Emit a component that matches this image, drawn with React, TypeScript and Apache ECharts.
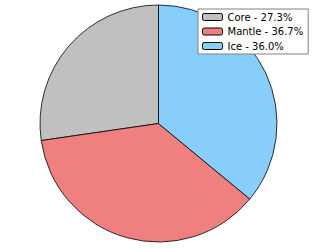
import React, { useEffect, useRef } from "react";
import * as echarts from "echarts";

const categories = ["Core", "Mantle", "Ice"];
const values = [27.3, 36.7, 36.0];
const colors = ["#c0c0c0", "#f08080", "#87cefa"];

export default function App() {
  const ref = useRef<HTMLDivElement>(null);
  useEffect(() => {
    document.body.style.margin = "0";
    const chart = echarts.init(ref.current!, null, { renderer: "svg" });
    chart.setOption({
      animation: false,
      backgroundColor: "#ffffff",
      legend: {
        orient: "vertical",
        left: 198,
        top: 9,
        padding: [2, 5, 2, 4],
        itemWidth: 20,
        itemHeight: 7,
        itemGap: 2.5,
        backgroundColor: "#ffffff",
        borderColor: "#808080",
        borderWidth: 1,
        borderRadius: 0,
        data: categories,
        formatter: (name: string) => {
          const i = categories.indexOf(name);
          return `${name} - ${values[i].toFixed(1)}%`;
        },
        textStyle: {
          fontFamily: "DejaVu Sans",
          fontSize: 10,
          lineHeight: 12,
          color: "#000000",
        },
        itemStyle: { borderColor: "#000000", borderWidth: 1 },
      },
      series: [
        {
          type: "pie",
          center: [158.5, 123.5],
          radius: 118.5,
          startAngle: 90,
          clockwise: false,
          label: { show: false },
          labelLine: { show: false },
          emphasis: { disabled: true },
          itemStyle: { borderColor: "#000000", borderWidth: 0.8 },
          data: categories.map((c, i) => ({
            name: c,
            value: values[i],
            itemStyle: { color: colors[i] },
          })),
        },
      ],
    });
    return () => chart.dispose();
  }, []);
  return (
    <div
      ref={ref}
      style={{ position: "absolute", left: 0, top: 0, width: 318, height: 249 }}
    />
  );
}
